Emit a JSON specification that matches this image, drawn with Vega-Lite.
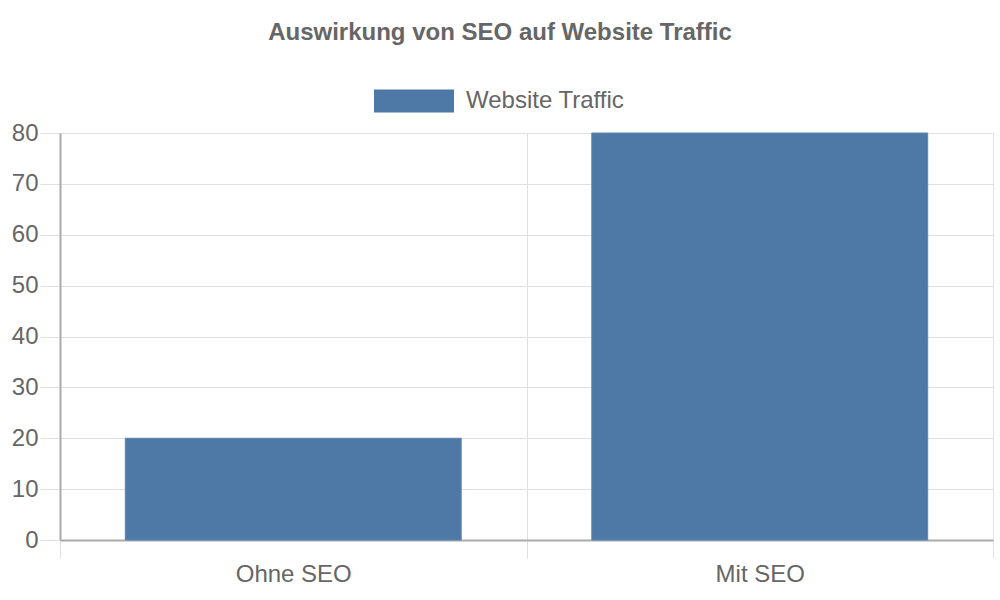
{
  "$schema": "https://vega.github.io/schema/vega-lite/v6.json",
  "description": "Auswirkung von SEO auf Website Traffic, bar chart",
  "width": 933,
  "height": 407,
  "autosize": {"type": "none"},
  "padding": {"left": 60, "top": 133, "right": 7, "bottom": 60},
  "background": "white",
  "config": {
    "font": "Liberation Sans",
    "view": {"stroke": null}
  },
  "title": {
    "text": "Auswirkung von SEO auf Website Traffic",
    "anchor": "middle",
    "frame": "group",
    "dx": -26.5,
    "fontSize": 24,
    "fontWeight": "bold",
    "color": "#666666",
    "offset": 16
  },
  "data": {
    "values": [
      {"Kategorie": "Ohne SEO", "Traffic": 20, "Serie": "Website Traffic"},
      {"Kategorie": "Mit SEO", "Traffic": 80, "Serie": "Website Traffic"}
    ]
  },
  "mark": {"type": "bar", "width": {"band": 0.72}, "stroke": "#5a84b0", "strokeWidth": 1},
  "encoding": {
    "x": {
      "field": "Kategorie",
      "type": "nominal",
      "sort": ["Ohne SEO", "Mit SEO"],
      "scale": {"paddingInner": 0, "paddingOuter": 0},
      "axis": {
        "title": null,
        "labelAngle": 0,
        "labelFontSize": 24,
        "labelColor": "#666666",
        "labelPadding": 4,
        "tickBand": "extent",
        "grid": true,
        "gridColor": "#e0e0e0",
        "tickColor": "#e0e0e0",
        "tickSize": 18,
        "domainColor": "#aaaaaa",
        "domainWidth": 2
      }
    },
    "y": {
      "field": "Traffic",
      "type": "quantitative",
      "scale": {"domain": [0, 80], "nice": false},
      "axis": {
        "title": null,
        "values": [0, 10, 20, 30, 40, 50, 60, 70, 80],
        "labelFontSize": 24,
        "labelColor": "#666666",
        "labelPadding": 2,
        "gridColor": "#e0e0e0",
        "tickColor": "#e0e0e0",
        "tickSize": 20,
        "domainColor": "#aaaaaa",
        "domainWidth": 2
      }
    },
    "color": {
      "field": "Serie",
      "type": "nominal",
      "scale": {"range": ["#4e79a7"]},
      "legend": {
        "title": null,
        "orient": "none",
        "legendX": 314,
        "legendY": -72,
        "symbolType": "M-1,-0.2875H1V0.2875H-1Z",
        "symbolSize": 6400,
        "symbolStrokeWidth": 0,
        "symbolOpacity": 1,
        "labelFontSize": 24,
        "labelColor": "#666666",
        "labelOffset": 12
      }
    }
  }
}
